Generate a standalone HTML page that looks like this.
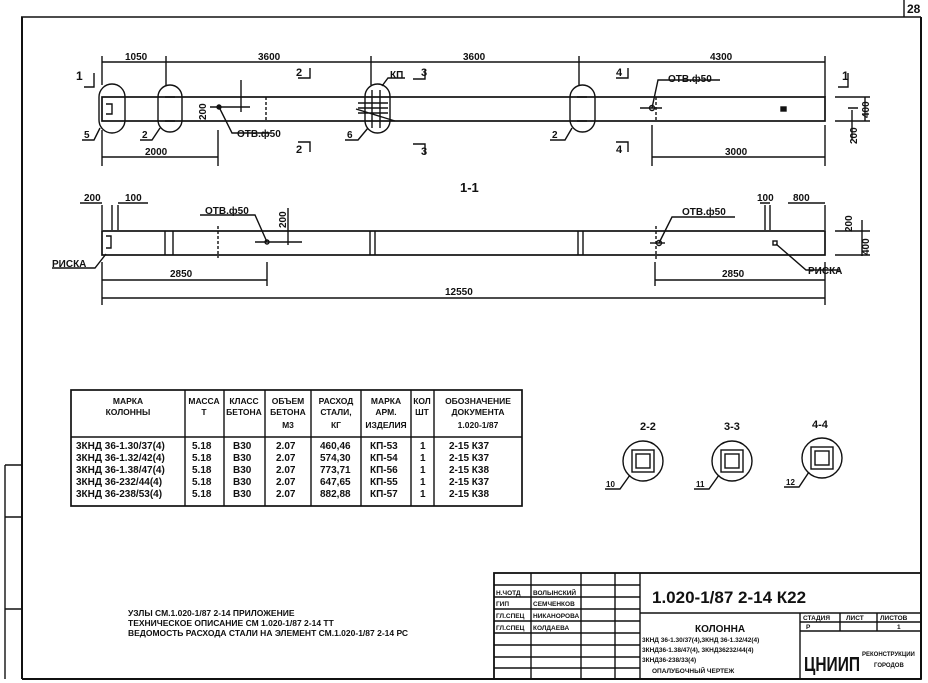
<!DOCTYPE html>
<html><head><meta charset="utf-8"><style>
html,body{margin:0;padding:0;background:#fff}
svg{display:block}
text{font-family:"Liberation Sans",sans-serif;font-weight:bold;fill:#111}
</style></head><body>
<svg width="928" height="683" viewBox="0 0 928 683" xmlns="http://www.w3.org/2000/svg">
<g stroke="#111" fill="none" stroke-width="1.4">
<line x1="21" y1="17" x2="921" y2="17" stroke-width="1.6"/>
<line x1="22" y1="17" x2="22" y2="679" stroke-width="2"/>
<line x1="921" y1="17" x2="921" y2="679" stroke-width="2"/>
<line x1="22" y1="679" x2="921" y2="679" stroke-width="2"/>
<line x1="904" y1="0" x2="904" y2="17"/>
<line x1="5" y1="465" x2="5" y2="679"/>
<line x1="5" y1="465" x2="22" y2="465"/>
<line x1="5" y1="517" x2="22" y2="517"/>
<line x1="5" y1="609" x2="22" y2="609"/>

<!-- TOP VIEW -->
<rect x="102" y="97" width="723" height="24" stroke-width="1.7"/>
<line x1="102" y1="62" x2="825" y2="62"/>
<line x1="102" y1="56" x2="102" y2="85"/><line x1="166" y1="56" x2="166" y2="85"/>
<line x1="371" y1="56" x2="371" y2="85"/><line x1="579" y1="56" x2="579" y2="85"/>
<line x1="825" y1="56" x2="825" y2="97"/>
<rect x="99" y="84" width="26" height="49" rx="13"/>
<rect x="158" y="85" width="24" height="47" rx="12"/>
<rect x="365" y="84" width="25" height="49" rx="12.5"/>
<rect x="570" y="85" width="25" height="47" rx="12.5"/>
<path d="M106 104h6v10h-6 M165 97h10 M165 121h10 M577 97h10 M577 121h10"/>
<path d="M356 109 L395 121 M358 103h30 M358 108h30 M358 113h30 M372 90v38 M380 90v38"/>
<line x1="266" y1="97" x2="266" y2="121" stroke-dasharray="3 2"/>
<line x1="656" y1="97" x2="656" y2="121" stroke-dasharray="3 2"/>
<circle cx="219" cy="107" r="2" fill="#111"/><line x1="210" y1="107" x2="250" y2="107"/>
<line x1="241" y1="80" x2="241" y2="112"/>
<circle cx="652" cy="108" r="2.5"/><line x1="640" y1="108" x2="662" y2="108"/>
<rect x="781" y="107" width="5" height="4" fill="#111"/>
<path d="M219 107 L232 133 H270"/><path d="M652 108 L658 80 H720"/>
<path d="M100 128 L94 140 H82"/><path d="M160 128 L152 140 H140"/>
<path d="M368 128 L358 140 H345"/><path d="M572 128 L565 140 H550"/>
<path d="M382 86 L388 78 H405"/>
<path d="M84 87h10v-14 M838 87h10v-14 M298 78h12v-10 M298 142h12v10 M413 79h12v-10 M413 144h12v10 M616 78h12v-10 M616 142h12v10"/>
<line x1="102" y1="157" x2="218" y2="157"/><line x1="102" y1="130" x2="102" y2="166"/><line x1="218" y1="130" x2="218" y2="166"/>
<line x1="652" y1="157" x2="825" y2="157"/><line x1="652" y1="125" x2="652" y2="166"/><line x1="825" y1="125" x2="825" y2="166"/>
<path d="M835 97h35 M835 121h35 M848 108h10 M865 97v24 M852 110v30"/>

<!-- SIDE VIEW -->
<rect x="102" y="231" width="723" height="24" stroke-width="1.7"/>
<path d="M165 231v24 M173 231v24 M370 231v24 M375 231v24 M578 231v24 M583 231v24"/>
<line x1="218" y1="226" x2="218" y2="258" stroke-dasharray="3 2"/>
<line x1="656" y1="226" x2="656" y2="260" stroke-dasharray="3 2"/>
<circle cx="267" cy="242" r="2"/><line x1="255" y1="242" x2="302" y2="242"/><line x1="288" y1="208" x2="288" y2="245"/>
<circle cx="659" cy="243" r="2.5"/><line x1="650" y1="243" x2="665" y2="243"/>
<rect x="773" y="241" width="4" height="4"/>
<path d="M106 236h5v12h-5"/>
<path d="M267 242 L255 215 H200"/><path d="M659 243 L672 217 H735"/>
<path d="M106 254 L95 268 H52"/><path d="M776 244 L806 270 H840"/>
<path d="M102 205v25 M112 205v25 M118 205v25 M80 203h22 M118 203h30 M765 205v25 M770 205v25 M825 205v25 M760 203h10 M788 203h37"/>
<path d="M835 231h35 M835 255h35 M862 220v36"/>
<line x1="102" y1="280" x2="267" y2="280"/><line x1="102" y1="262" x2="102" y2="305"/><line x1="267" y1="262" x2="267" y2="286"/>
<line x1="655" y1="280" x2="825" y2="280"/><line x1="655" y1="262" x2="655" y2="286"/><line x1="825" y1="262" x2="825" y2="305"/>
<line x1="102" y1="298" x2="825" y2="298"/>

<!-- TABLE -->
<rect x="71" y="390" width="451" height="116" stroke-width="1.7"/>
<line x1="71" y1="437" x2="522" y2="437"/>
<path d="M185 390v116 M224 390v116 M265 390v116 M311 390v116 M361 390v116 M411 390v116 M434 390v116"/>

<circle cx="643" cy="461" r="20"/><rect x="632" y="450" width="22" height="22"/><rect x="636" y="454" width="14" height="14"/>
<circle cx="732" cy="461" r="20"/><rect x="721" y="450" width="22" height="22"/><rect x="725" y="454" width="14" height="14"/>
<circle cx="822" cy="458" r="20"/><rect x="811" y="447" width="22" height="22"/><rect x="815" y="451" width="14" height="14"/>
<path d="M630 475 L620 489 H605 M719 475 L709 489 H694 M809 472 L799 487 H784"/>

<!-- TITLE BLOCK -->
<rect x="494" y="573" width="427" height="106" stroke-width="1.8"/>
<path d="M531 573v106 M581 573v106 M615 573v106 M640 573v106"/>
<path d="M494 585h146 M494 597h146 M494 609h146 M494 621h146 M494 633h146 M494 645h146 M494 657h146 M494 668h146"/>
<path d="M640 613h281 M800 613v66 M800 622h121 M800 631h121 M840 613v18 M877 613v18"/>
</g>

<g font-size="10">
<text x="125" y="60">1050</text><text x="258" y="60">3600</text><text x="463" y="60">3600</text><text x="710" y="60">4300</text>
<text x="76" y="80" font-size="12">1</text><text x="842" y="80" font-size="12">1</text>
<text x="296" y="76" font-size="11">2</text><text x="296" y="153" font-size="11">2</text>
<text x="421" y="76" font-size="11">3</text><text x="421" y="155" font-size="11">3</text>
<text x="616" y="76" font-size="11">4</text><text x="616" y="153" font-size="11">4</text>
<text x="390" y="78">КП</text>
<text x="237" y="137">ОТВ.ф50</text><text x="668" y="82">ОТВ.ф50</text>
<text x="84" y="138">5</text><text x="142" y="138">2</text><text x="347" y="138">6</text><text x="552" y="138">2</text>
<text x="145" y="155">2000</text><text x="725" y="155">3000</text>
<text x="460" y="192" font-size="13">1-1</text>
<text x="84" y="201">200</text><text x="125" y="201">100</text><text x="757" y="201">100</text><text x="793" y="201">800</text>
<text x="205" y="214">ОТВ.ф50</text><text x="682" y="215">ОТВ.ф50</text>
<text x="52" y="267">РИСКА</text><text x="808" y="274">РИСКА</text>
<text x="170" y="277">2850</text><text x="722" y="277">2850</text><text x="445" y="295">12550</text>
<text x="640" y="430" font-size="11" font-weight="normal">2-2</text>
<text x="724" y="430" font-size="11" font-weight="normal">3-3</text>
<text x="812" y="428" font-size="11" font-weight="normal">4-4</text>
<text x="606" y="487" font-size="8">10</text><text x="696" y="487" font-size="8">11</text><text x="786" y="485" font-size="8">12</text>
</g>
<g font-size="10" transform="rotate(-90)">
<text x="-120" y="206">200</text><text x="-144" y="857">200</text><text x="-118" y="869">400</text>
<text x="-228" y="286">200</text><text x="-232" y="852">200</text><text x="-255" y="869">400</text>
</g>

<g font-size="8.5" text-anchor="middle">
<text x="128" y="404">МАРКА</text><text x="128" y="415">КОЛОННЫ</text>
<text x="204" y="404">МАССА</text><text x="204" y="415">Т</text>
<text x="244" y="404">КЛАСС</text><text x="244" y="415">БЕТОНА</text>
<text x="288" y="404">ОБЪЕМ</text><text x="288" y="415">БЕТОНА</text><text x="288" y="428">М3</text>
<text x="336" y="404">РАСХОД</text><text x="336" y="415">СТАЛИ,</text><text x="336" y="428">КГ</text>
<text x="386" y="404">МАРКА</text><text x="386" y="415">АРМ.</text><text x="386" y="428">ИЗДЕЛИЯ</text>
<text x="422" y="404">КОЛ</text><text x="422" y="415">ШТ</text>
<text x="478" y="404">ОБОЗНАЧЕНИЕ</text><text x="478" y="415">ДОКУМЕНТА</text><text x="478" y="428">1.020-1/87</text>
</g>
<g font-size="10" font-weight="600">
<text x="76" y="449">3КНД 36-1.30/37(4)</text><text x="76" y="461">3КНД 36-1.32/42(4)</text><text x="76" y="473">3КНД 36-1.38/47(4)</text><text x="76" y="485">3КНД 36-232/44(4)</text><text x="76" y="497">3КНД 36-238/53(4)</text>
<text x="192" y="449">5.18</text><text x="192" y="461">5.18</text><text x="192" y="473">5.18</text><text x="192" y="485">5.18</text><text x="192" y="497">5.18</text>
<text x="233" y="449">В30</text><text x="233" y="461">В30</text><text x="233" y="473">В30</text><text x="233" y="485">В30</text><text x="233" y="497">В30</text>
<text x="276" y="449">2.07</text><text x="276" y="461">2.07</text><text x="276" y="473">2.07</text><text x="276" y="485">2.07</text><text x="276" y="497">2.07</text>
<text x="320" y="449">460,46</text><text x="320" y="461">574,30</text><text x="320" y="473">773,71</text><text x="320" y="485">647,65</text><text x="320" y="497">882,88</text>
<text x="370" y="449">КП-53</text><text x="370" y="461">КП-54</text><text x="370" y="473">КП-56</text><text x="370" y="485">КП-55</text><text x="370" y="497">КП-57</text>
<text x="420" y="449">1</text><text x="420" y="461">1</text><text x="420" y="473">1</text><text x="420" y="485">1</text><text x="420" y="497">1</text>
<text x="449" y="449">2-15 К37</text><text x="449" y="461">2-15 К37</text><text x="449" y="473">2-15 К38</text><text x="449" y="485">2-15 К37</text><text x="449" y="497">2-15 К38</text>
</g>

<g font-size="8.5">
<text x="128" y="616">УЗЛЫ СМ.1.020-1/87 2-14 ПРИЛОЖЕНИЕ</text>
<text x="128" y="626">ТЕХНИЧЕСКОЕ ОПИСАНИЕ СМ 1.020-1/87 2-14 ТТ</text>
<text x="128" y="636">ВЕДОМОСТЬ РАСХОДА СТАЛИ НА ЭЛЕМЕНТ СМ.1.020-1/87 2-14 РС</text>
</g>
<g font-size="6.5">
<text x="496" y="595">Н.ЧОТД</text><text x="533" y="595">ВОЛЫНСКИЙ</text>
<text x="496" y="606">ГИП</text><text x="533" y="606">СЕМЧЕНКОВ</text>
<text x="496" y="618">ГЛ.СПЕЦ</text><text x="533" y="618">НИКАНОРОВА</text>
<text x="496" y="630">ГЛ.СПЕЦ</text><text x="533" y="630">КОЛДАЕВА</text>
<text x="803" y="620">СТАДИЯ</text><text x="846" y="620">ЛИСТ</text><text x="880" y="620">ЛИСТОВ</text>
<text x="806" y="629">Р</text><text x="897" y="629">1</text>
<text x="642" y="642">3КНД 36-1.30/37(4),3КНД 36-1.32/42(4)</text>
<text x="642" y="652">3КНД36-1.38/47(4), 3КНД36232/44(4)</text>
<text x="642" y="662">3КНД36-238/33(4)</text>
<text x="652" y="673">ОПАЛУБОЧНЫЙ ЧЕРТЕЖ</text>
<text x="862" y="656" font-size="6">РЕКОНСТРУКЦИИ</text><text x="874" y="667" font-size="6">ГОРОДОВ</text>
</g>
<text x="695" y="632" font-size="10">КОЛОННА</text>
<text x="652" y="603" font-size="17" font-weight="normal">1.020-1/87 2-14 К22</text>
<text x="804" y="671" font-size="20" font-weight="normal" textLength="56" lengthAdjust="spacingAndGlyphs">ЦНИИП</text>
<text x="907" y="13" font-size="12" font-weight="normal">28</text>
</svg>
</body></html>
